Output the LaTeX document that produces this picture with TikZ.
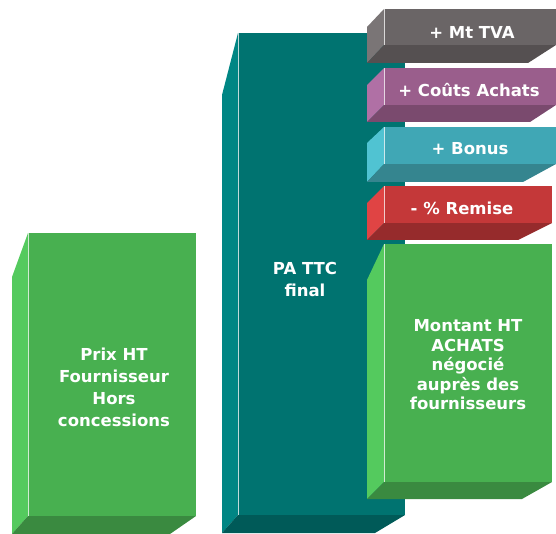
\documentclass[tikz,border=0pt]{standalone}
\usepackage{fontspec}
\setmainfont{DejaVu Sans}
\definecolor{vertface}{RGB}{72,176,80}
\definecolor{vertcote}{RGB}{84,202,94}
\definecolor{vertbas}{RGB}{58,138,64}
\definecolor{tealface}{RGB}{0,115,112}
\definecolor{tealcote}{RGB}{0,134,132}
\definecolor{tealbas}{RGB}{0,90,88}
\definecolor{grisface}{RGB}{106,101,102}
\definecolor{griscote}{RGB}{122,117,118}
\definecolor{grisbas}{RGB}{85,80,81}
\definecolor{violetface}{RGB}{154,94,140}
\definecolor{violetcote}{RGB}{176,112,165}
\definecolor{violetbas}{RGB}{122,74,110}
\definecolor{cyanface}{RGB}{64,167,181}
\definecolor{cyancote}{RGB}{80,195,210}
\definecolor{cyanbas}{RGB}{53,133,143}
\definecolor{rougeface}{RGB}{196,56,57}
\definecolor{rougecote}{RGB}{224,68,68}
\definecolor{rougebas}{RGB}{150,43,44}
\tikzset{
  etiquette/.style={text=white,font=\bfseries\fontsize{16.5}{22}\selectfont,align=center,inner sep=0pt},
  reflet/.style={white,opacity=0.75,line width=0.9pt}
}
\begin{document}
\begin{tikzpicture}[x=1pt,y=-1pt]
                \useasboundingbox (0,0) rectangle (556,534) ;
                \fill [vertcote] (28,233) -- (12,277) -- (12,534) -- (28,516) -- cycle ;
                \fill [vertbas] (28,516) -- (196,516) -- (170,534) -- (12,534) -- cycle ;
                \fill [vertface] (28,233) rectangle (196,516) ;
                \draw [reflet] (28.5,233) -- (28.5,516) ;
                \fill [tealcote] (238,33) -- (222,95) -- (222,533) -- (238,515) -- cycle ;
                \fill [tealbas] (238,515) -- (405,515) -- (375,533) -- (222,533) -- cycle ;
                \fill [tealface] (238,33) rectangle (405,515) ;
                \draw [reflet] (238.5,33) -- (238.5,515) ;
                \fill [griscote] (384,9) -- (367,27) -- (367,63) -- (384,45) -- cycle ;
                \fill [grisbas] (384,45) -- (556,45) -- (528,63) -- (367,63) -- cycle ;
                \fill [grisface] (384,9) rectangle (556,45) ;
                \draw [reflet] (384.5,9) -- (384.5,45) ;
                \fill [violetcote] (384,68) -- (367,85) -- (367,122) -- (384,105) -- cycle ;
                \fill [violetbas] (384,105) -- (556,105) -- (530,122) -- (367,122) -- cycle ;
                \fill [violetface] (384,68) rectangle (556,105) ;
                \draw [reflet] (384.5,68) -- (384.5,105) ;
                \fill [cyancote] (384,127) -- (367,143) -- (367,182) -- (384,164) -- cycle ;
                \fill [cyanbas] (384,164) -- (556,164) -- (523,182) -- (367,182) -- cycle ;
                \fill [cyanface] (384,127) rectangle (556,164) ;
                \draw [reflet] (384.5,127) -- (384.5,164) ;
                \fill [rougecote] (384,186) -- (367,203) -- (367,240) -- (384,223) -- cycle ;
                \fill [rougebas] (384,223) -- (552,223) -- (518,240) -- (367,240) -- cycle ;
                \fill [rougeface] (384,186) rectangle (552,223) ;
                \draw [reflet] (384.5,186) -- (384.5,223) ;
                \fill [vertcote] (384,244) -- (367,280) -- (367,499) -- (384,482) -- cycle ;
                \fill [vertbas] (384,482) -- (552,482) -- (522,499) -- (367,499) -- cycle ;
                \fill [vertface] (384,244) rectangle (552,482) ;
                \draw [reflet] (384.5,244) -- (384.5,482) ;
                \node [etiquette] (prix) at (114,387) {Prix HT\\Fournisseur\\Hors\\concessions} ;
                \node [etiquette] (pattc) at (305,279) {PA TTC\\final} ;
                \node [etiquette,font=\bfseries\fontsize{16.5}{19.5}\selectfont] (montant) at (468,365) {Montant HT\\ACHATS\\négocié\\auprès des\\fournisseurs} ;
                \node [etiquette] (tva) at (472,32) {+ Mt TVA} ;
                \node [etiquette] (couts) at (469,90) {+ Coûts Achats} ;
                \node [etiquette] (bonus) at (470,149) {+ Bonus} ;
                \node [etiquette] (remise) at (462,208) {- \% Remise} ;
\end{tikzpicture}
\end{document}
